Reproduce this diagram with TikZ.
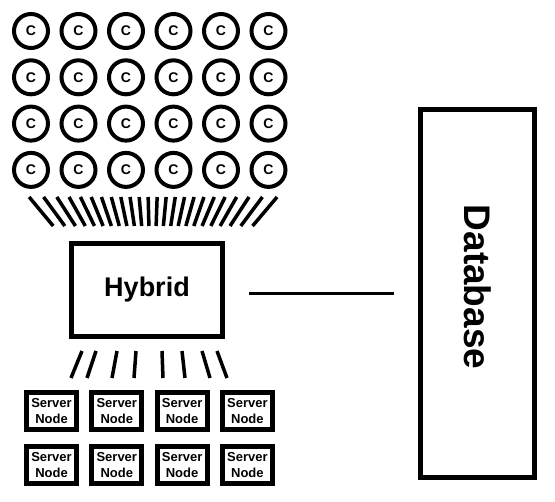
\documentclass[tikz,border=0pt]{standalone}
\usepackage{fontspec}
\setmainfont{Liberation Sans}
\usepackage{tikz}

\tikzset{
  client/.style={circle,draw,line width=4pt,minimum size=34pt,inner sep=0pt,font=\fontsize{14}{14}\selectfont\bfseries},
  hybridbox/.style={draw,line width=5pt,minimum width=151pt,minimum height=93pt,font=\fontsize{27}{27}\selectfont\bfseries},
  serverbox/.style={draw,line width=5pt,minimum width=50pt,minimum height=37pt,inner sep=0pt,align=center,font=\fontsize{13}{16}\selectfont\bfseries},
  dbbox/.style={draw,line width=5pt,minimum width=114pt,minimum height=368pt},
  ray/.style={line width=3.5pt}
}

\begin{document}
\begin{tikzpicture}[x=1pt,y=-1pt]
                \useasboundingbox (0,0) rectangle (555,502);

                % Define the clients (6 columns, 4 rows)
                \foreach \col in {1,...,6} {
                    \foreach \row in {1,...,4} {
                        \node[client] (c-\row-\col) at ({31+47.5*(\col-1)},{31+46.3*(\row-1)}) {C};
                    }
                }

                % Define the fan of lines below the clients
                \coordinate (fan) at (152,345);
                \foreach \i [evaluate=\i as \a using -39.7+3.474*\i] in {0,...,23} {
                    \draw[ray] ({152+148*tan(\a)},197) -- ({152+119*tan(\a)},226);
                }

                % Define the hybrid node
                \node[hybridbox] (hybrid) at (147,290) {Hybrid};

                % Define the database
                \node[dbbox] (db) at (477.5,293.5) {};
                \node[rotate=-90,font=\fontsize{37}{37}\selectfont\bfseries] (dbtext) at (478,287) {Database};

                % Connect the hybrid node to the database
                \draw[line width=3pt,shorten <=24pt,shorten >=24pt] (hybrid.east |- db.west) -- (db.west);

                % Define the lines below the hybrid node
                \foreach \xa/\xb in {82/71,96/87,117/112,136/134,162/163,182/185,202/210,217/227} {
                    \draw[ray] (\xa,351) -- (\xb,378);
                }

                % Define the server nodes (4 columns, 2 rows)
                \foreach \col in {1,...,4} {
                    \foreach \row in {1,2} {
                        \node[serverbox] (s-\row-\col) at ({51.5+65.3*(\col-1)},{411+54*(\row-1)}) {Server\\Node};
                    }
                }

            \end{tikzpicture}
\end{document}
